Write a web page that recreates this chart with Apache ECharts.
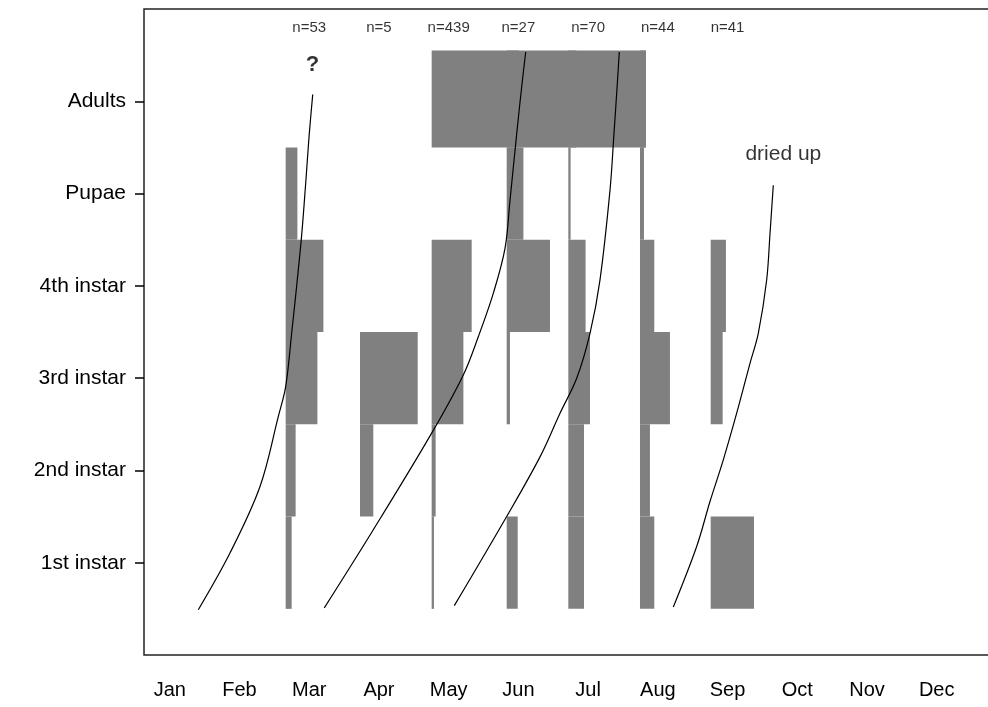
<!DOCTYPE html>
<html><head><meta charset="utf-8">
<script src="https://cdn.jsdelivr.net/npm/echarts@6/dist/echarts.min.js"></script>
<style>html,body{margin:0;padding:0;background:#fff}#c{width:988px;height:707px}</style>
</head><body><div id="c"></div>
<script>
// ---- data ----
const months = ['Jan','Feb','Mar','Apr','May','Jun','Jul','Aug','Sep','Oct','Nov','Dec'];
const stages = ['1st instar','2nd instar','3rd instar','4th instar','Pupae','Adults'];
// sampling dates (month units, Jan = 1)
const sampleDates = [2.662, 3.728, 4.756, 5.832, 6.716, 7.744, 8.758];
const sampleLabels = ['n=53','n=5','n=439','n=27','n=70','n=44','n=41'];
const sampleMonth = [3, 4, 5, 6, 7, 8, 9];
// relative abundance per stage at each sampling date (bar length in month units)
const firstInstar  = [0.086, 0.000, 0.033, 0.158, 0.225, 0.205, 0.621];
const secondInstar = [0.143, 0.191, 0.057, 0.000, 0.225, 0.143, 0.000];
const thirdInstar  = [0.455, 0.828, 0.455, 0.047, 0.311, 0.430, 0.172];
const fourthInstar = [0.541, 0.000, 0.574, 0.621, 0.248, 0.205, 0.219];
const pupae        = [0.168, 0.000, 0.000, 0.240, 0.033, 0.057, 0.000];
const adults       = [0.000, 0.000, 1.250, 1.000, 1.114, 0.086, 0.000];
// development curves: [month, stage position]
const curve1 = [[1.409,0.491],[1.863,1.105],[2.294,1.826],[2.556,2.583],[2.662,2.908],[2.748,3.486],[2.882,4.471],[2.949,5.109],[2.997,5.614],[3.050,6.073]];
const curve2 = [[3.216,0.510],[3.919,1.357],[4.756,2.404],[5.210,3.035],[5.425,3.449],[5.640,3.919],[5.808,4.406],[5.880,4.929],[5.976,5.650],[6.047,6.155],[6.105,6.534]];
const curve3 = [[5.081,0.535],[5.832,1.501],[6.310,2.147],[6.597,2.620],[6.836,2.999],[7.027,3.486],[7.170,4.063],[7.314,5.037],[7.371,5.650],[7.419,6.192],[7.447,6.534]];
const curve4 = [[8.222,0.521],[8.557,1.176],[8.748,1.663],[8.939,2.115],[9.131,2.620],[9.322,3.161],[9.441,3.486],[9.561,4.063],[9.609,4.568],[9.656,5.091]];
const notes = [{text:'?', x:3.047, y:6.39, bold:true},{text:'dried up', x:9.80, y:5.43, bold:false}];

// ---- build ----
const stageArrays = [firstInstar, secondInstar, thirdInstar, fourthInstar, pupae, adults];
const barData = [];
sampleDates.forEach((d, i) => {
  stageArrays.forEach((arr, s) => {
    if (arr[i] > 0) barData.push([d, s + 1, arr[i]]);
  });
});
const FONT = 'Liberation Sans, Arial, sans-serif';
const lineSeries = [curve1, curve2, curve3, curve4].map(c => ({
  type: 'line', data: c, smooth: 0.35, symbol: 'none', z: 5,
  lineStyle: {color: '#000', width: 1.2}, silent: true
}));

const chart = echarts.init(document.getElementById('c'), null, {renderer: 'canvas'});
chart.setOption({
  animation: false,
  backgroundColor: '#fff',
  grid: {left: 144, top: 9, width: 845, height: 646, show: true, borderColor: '#222', borderWidth: 1.5, outerBoundsMode: 'none', containLabel: false},
  xAxis: {
    type: 'value', min: 0.63, max: 12.75,
    axisLine: {show: false}, axisTick: {show: false}, splitLine: {show: false},
    axisLabel: {customValues: [1,2,3,4,5,6,7,8,9,10,11,12], formatter: v => months[Math.round(v) - 1],
      color: '#000', fontSize: 20, fontFamily: FONT, margin: 25}
  },
  yAxis: {
    type: 'value', min: 0, max: 7,
    axisLine: {show: false}, splitLine: {show: false},
    axisTick: {show: true, customValues: [1,2,3,4,5,6], length: 9, lineStyle: {color: '#000', width: 1.5}},
    axisLabel: {customValues: [1,2,3,4,5,6], formatter: v => stages[Math.round(v) - 1],
      color: '#000', fontSize: 21, fontFamily: FONT, margin: 18}
  },
  series: [
    {
      type: 'custom', data: barData, z: 2, silent: true,
      encode: {x: 0, y: 1},
      renderItem: function (params, api) {
        const x0 = api.value(0), s = api.value(1), len = api.value(2);
        const top = s === 6 ? s + 0.55 : s + 0.5;
        const p1 = api.coord([x0, top]);
        const p2 = api.coord([x0 + len, s - 0.5]);
        return {type: 'rect', shape: {x: p1[0], y: p1[1], width: p2[0] - p1[0], height: p2[1] - p1[1]}, style: {fill: '#808080'}};
      }
    },
    ...lineSeries,
    {
      type: 'scatter', symbolSize: 0, z: 6, silent: true,
      data: sampleMonth.map((m, i) => ({value: [m, 6.80], name: sampleLabels[i]})),
      label: {show: true, position: 'inside', formatter: p => p.name, color: '#000', fontSize: 15, fontFamily: FONT}
    },
    {
      type: 'scatter', symbolSize: 0, z: 6, silent: true,
      data: notes.map(n => ({value: [n.x, n.y], name: n.text, label: {fontWeight: n.bold ? 'bold' : 'normal', fontSize: n.bold ? 22 : 21}})),
      label: {show: true, position: 'inside', formatter: p => p.name, color: '#000', fontFamily: FONT}
    }
  ]
});
</script></body></html>
